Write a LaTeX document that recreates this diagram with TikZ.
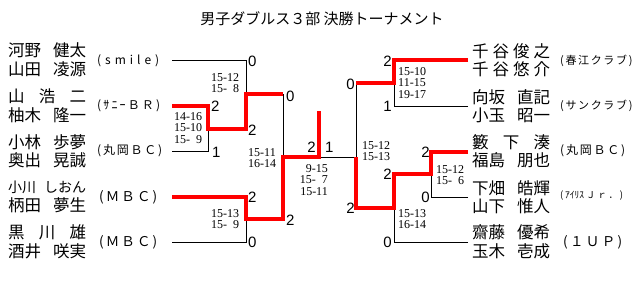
\documentclass[tikz,border=0pt]{standalone}
\usepackage{fontspec}
\setmainfont{Liberation Serif}
\newfontfamily\jpfont{Noto Sans CJK JP}
\newfontfamily\numfont{Liberation Sans}
\usepackage{tikz}
\usetikzlibrary{positioning}
\definecolor{winred}{HTML}{FF0000}
\definecolor{ink}{HTML}{000000}
\newcommand{\nm}[1]{\makebox[78pt][s]{#1}}
\newcommand{\figsp}{\hphantom{0}}
\newcommand{\clb}[3]{{\fontsize{#1}{#1}\selectfont\makebox[#2][s]{#3}}}

\begin{document}
\begin{tikzpicture}[x=1pt, y=-1pt,
    wire/.style={draw=ink, line width=0.9pt},
    win/.style={draw=winred, line width=3.2pt},
    pts/.style={font=\numfont\fontsize{15}{15}\selectfont, inner sep=0pt},
    games/.style={font=\fontsize{12}{11.5}\selectfont, inner sep=0pt, align=left},
    team/.style={font=\jpfont\fontsize{16.5}{18.5}\selectfont, inner sep=0pt, align=left, anchor=west},
    club/.style={font=\jpfont, inner sep=0pt, anchor=west}]
    \useasboundingbox (0,0) rectangle (640,281);

    \node[font=\jpfont\fontsize{15}{15}\selectfont, inner sep=0pt] (title) at (322,19)
      {男子ダブルス３部 決勝トーナメント};

    % entries and junctions
    \coordinate (a1) at (172,60);
    \coordinate (a2) at (172,106);
    \coordinate (a3) at (172,151);
    \coordinate (a4) at (172,197);
    \coordinate (a5) at (172,242);
    \coordinate (m1) at (208,129);
    \coordinate (m2) at (246,94);
    \coordinate (m3) at (246,219);
    \coordinate (m4) at (283,157);
    \coordinate (top) at (319,111);
    \coordinate (fc) at (319,157);
    \coordinate (b1) at (468,60);
    \coordinate (b2) at (468,106);
    \coordinate (b3) at (468,152);
    \coordinate (b4) at (468,197);
    \coordinate (b5) at (468,242);
    \coordinate (n1) at (394,83);
    \coordinate (n2) at (431,174);
    \coordinate (n3) at (394,208);
    \coordinate (n4) at (356,157);

    \draw[wire] (a1) -| (m2);
    \draw[wire] (a3) -| (m1);
    \draw[wire] (a5) -| (m3);
    \draw[wire] (m2 -| m4) -- (m4);
    \draw[wire] (fc) -- (n4);
    \draw[wire] (n1 -| n4) -- (n4);
    \draw[wire] (b2) -| (n1);
    \draw[wire] (b4) -| (n2);
    \draw[wire] (b5) -| (n3);

    \draw[win] (a2) -| (m1) -| (m2) -- (m2 -| m4);
    \draw[win] (a4) -| (m3) -| (m4) -| (top);
    \draw[win] (b1) -| (n1) -- (n1 -| n4);
    \draw[win] (b3) -| (n2) -| (n3) -| (n4);

    \node[team] (t1) at (8,60) {\nm{河野 健太}\\\nm{山田 凌源}};
    \node[team] (t2) at (8,106) {\nm{山 浩 二}\\\nm{柚木 隆一}};
    \node[team] (t3) at (8,151) {\nm{小林 歩夢}\\\nm{奥出 晃誠}};
    \node[team] (t4) at (8,197) {{\fontsize{14}{14}\selectfont\nm{小川 しおん}}\\\nm{柄田 夢生}};
    \node[team] (t5) at (8,242) {\nm{黒 川 雄}\\\nm{酒井 咲実}};

    \node[team] (u1) at (472,60) {\nm{千 谷 俊 之}\\\nm{千 谷 悠 介}};
    \node[team] (u2) at (472,106) {\nm{向坂 直記}\\\nm{小玉 昭一}};
    \node[team] (u3) at (472,151) {\nm{籔 下 湊}\\\nm{福島 朋也}};
    \node[team] (u4) at (472,197) {\nm{下畑 皓輝}\\\nm{山下 惟人}};
    \node[team] (u5) at (472,242) {\nm{齋藤 優希}\\\nm{玉木 壱成}};

    \node[club] (c1) at (97,61) {\clb{12}{62pt}{( s m i l e )}};
    \node[club] (c2) at (97,106) {\clb{12}{63pt}{( ｻ ﾆ ｰ Ｂ Ｒ )}};
    \node[club] (c3) at (97,151) {\clb{12}{61pt}{( 丸 岡 Ｂ Ｃ )}};
    \node[club] (c4) at (99,197) {\clb{13.5}{58pt}{( Ｍ Ｂ Ｃ )}};
    \node[club] (c5) at (99,242) {\clb{13.5}{58pt}{( Ｍ Ｂ Ｃ )}};

    \node[club] (d1) at (560,61) {\clb{11}{63pt}{( 春 江 ク ラ ブ )}};
    \node[club] (d2) at (560,106) {\clb{11}{63pt}{( サ ン ク ラ ブ )}};
    \node[club] (d3) at (560,151) {\clb{12}{63pt}{( 丸 岡 Ｂ Ｃ )}};
    \node[club] (d4) at (560,196) {\clb{9.5}{63pt}{( ｱｲﾘｽ Ｊ ｒ ． )}};
    \node[club] (d5) at (563,242) {\clb{13.5}{59pt}{( １ Ｕ Ｐ )}};

    % points, left half
    \node[pts, anchor=west] (p1) at (248,61) {0};
    \node[pts, anchor=west] (p2) at (211,106) {2};
    \node[pts, anchor=west] (p3) at (212,152) {1};
    \node[pts, anchor=west] (p4) at (248,130) {2};
    \node[pts, anchor=west] (p5) at (286,96) {0};
    \node[pts, anchor=west] (p6) at (248,197) {2};
    \node[pts, anchor=west] (p7) at (248,242) {0};
    \node[pts, anchor=west] (p8) at (286,220) {2};
    \node[pts, anchor=east] (p9) at (316,147) {2};
    \node[pts, anchor=west] (p10) at (325,147) {1};
    % points, right half
    \node[pts, anchor=east] (q1) at (355,84) {0};
    \node[pts, anchor=east] (q2) at (392,61) {2};
    \node[pts, anchor=east] (q3) at (392,106) {1};
    \node[pts, anchor=east] (q4) at (430,152) {2};
    \node[pts, anchor=east] (q5) at (392,174) {2};
    \node[pts, anchor=east] (q6) at (430,197) {0};
    \node[pts, anchor=east] (q7) at (355,208) {2};
    \node[pts, anchor=east] (q8) at (392,242) {0};

    \node[games, anchor=west] (g1) at (211,83) {15-12\\15-\figsp8};
    \node[games, anchor=west] (g2) at (174,128) {14-16\\15-10\\15-\figsp9};
    \node[games, anchor=west] (g3) at (248,158) {15-11\\16-14};
    \node[games, anchor=west] (g4) at (211,219) {15-13\\15-\figsp9};
    \node[games, anchor=east, align=right] (g5) at (328,180) {9-15\\15-\figsp7\\15-11};
    \node[games, anchor=west] (g6) at (362,151) {15-12\\15-13};
    \node[games, anchor=west] (g7) at (398,83) {15-10\\11-15\\19-17};
    \node[games, anchor=west] (g8) at (436,175) {15-12\\15-\figsp6};
    \node[games, anchor=west] (g9) at (398,219) {15-13\\16-14};
\end{tikzpicture}
\end{document}
